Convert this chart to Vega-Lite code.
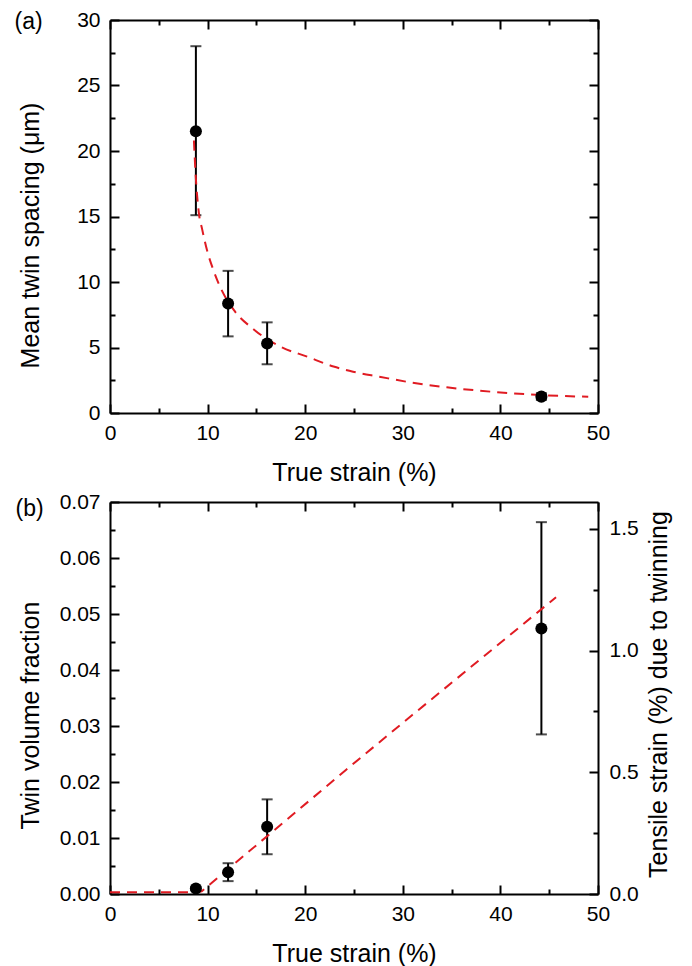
{
  "$schema": "https://vega.github.io/schema/vega-lite/v6.json",
  "padding": {"left": 14, "top": 9, "right": 5, "bottom": 2},
  "spacing": 6,
  "config": {
    "font": "Liberation Sans",
    "view": {"stroke": null},
    "axis": {
      "domainColor": "black", "domainWidth": 2, "tickColor": "black", "tickWidth": 2,
      "labelFont": "Liberation Sans", "labelFontSize": 21, "labelColor": "black",
      "titleFont": "Liberation Sans", "titleFontSize": 25, "titleFontWeight": "normal", "titleColor": "black",
      "grid": false, "labelFlush": false, "labelOverlap": false
    }
  },
  "datasets": {
    "ptsA": [
      {"strain": 8.8, "spacing": 21.5, "lo": 15.1, "hi": 28.0},
      {"strain": 12.1, "spacing": 8.35, "lo": 5.85, "hi": 10.85},
      {"strain": 16.1, "spacing": 5.3, "lo": 3.72, "hi": 6.92},
      {"strain": 44.2, "spacing": 1.25, "lo": 1.0, "hi": 1.5}
    ],
    "fitA": [
      {"strain": 8.6, "spacing": 20.8}, {"strain": 8.75, "spacing": 18.5}, {"strain": 9.1, "spacing": 15.3},
      {"strain": 9.45, "spacing": 14.0}, {"strain": 9.95, "spacing": 12.4}, {"strain": 10.6, "spacing": 10.9},
      {"strain": 11.3, "spacing": 9.6}, {"strain": 12.7, "spacing": 7.85}, {"strain": 14.7, "spacing": 6.4},
      {"strain": 17.5, "spacing": 5.05}, {"strain": 20.2, "spacing": 4.3}, {"strain": 22.9, "spacing": 3.55},
      {"strain": 24.9, "spacing": 3.15}, {"strain": 27.6, "spacing": 2.77}, {"strain": 31.0, "spacing": 2.31},
      {"strain": 34.5, "spacing": 1.96}, {"strain": 37.9, "spacing": 1.7}, {"strain": 41.3, "spacing": 1.5},
      {"strain": 44.7, "spacing": 1.35}, {"strain": 49.0, "spacing": 1.24}
    ],
    "ptsB": [
      {"strain": 8.8, "fraction": 0.001, "lo": 0.0007, "hi": 0.0013},
      {"strain": 12.1, "fraction": 0.0039, "lo": 0.0023, "hi": 0.0055},
      {"strain": 16.1, "fraction": 0.012, "lo": 0.0071, "hi": 0.0169},
      {"strain": 44.2, "fraction": 0.0474, "lo": 0.0285, "hi": 0.0664}
    ],
    "fitB": [
      {"strain": 0, "fraction": 0.0003}, {"strain": 8.8, "fraction": 0.0003}, {"strain": 9.4, "fraction": 0.0005},
      {"strain": 24.2, "fraction": 0.0222}, {"strain": 31.0, "fraction": 0.032}, {"strain": 45.7, "fraction": 0.053}
    ]
  },
  "vconcat": [
    {
      "width": 488, "height": 393,
      "layer": [
        {
          "data": {"name": "ptsA"},
          "mark": {"type": "rule", "strokeWidth": 2, "color": "black"},
          "encoding": {
            "x": {"field": "strain", "type": "quantitative", "scale": {"domain": [0, 50], "nice": false, "zero": false},
              "axis": {"orient": "bottom", "values": [0, 5, 10, 15, 20, 25, 30, 35, 40, 45, 50],
                "labelExpr": "datum.value % 10 === 0 ? datum.label : ''",
                "tickSize": {"condition": {"test": "datum.value % 10 === 0", "value": -9}, "value": -5},
                "labelPadding": 18, "title": "True strain (%)", "titleY": 47}},
            "y": {"field": "lo", "type": "quantitative", "scale": {"domain": [0, 30], "nice": false, "zero": false},
              "axis": {"orient": "left", "values": [0, 2.5, 5, 7.5, 10, 12.5, 15, 17.5, 20, 22.5, 25, 27.5, 30],
                "labelExpr": "datum.value % 5 === 0 ? datum.label : ''",
                "tickSize": {"condition": {"test": "datum.value % 5 === 0", "value": -9}, "value": -5},
                "labelPadding": 19, "title": "Mean twin spacing (μm)", "titleX": -67, "titleY": 215}},
            "y2": {"field": "hi"}
          }
        },
        {
          "data": {"name": "ptsA"},
          "mark": {"type": "tick", "orient": "horizontal", "size": 11, "thickness": 2, "color": "black"},
          "encoding": {
            "x": {"field": "strain", "type": "quantitative", "axis": null},
            "y": {"field": "lo", "type": "quantitative", "axis": null}
          }
        },
        {
          "data": {"name": "ptsA"},
          "mark": {"type": "tick", "orient": "horizontal", "size": 11, "thickness": 2, "color": "black"},
          "encoding": {
            "x": {"field": "strain", "type": "quantitative", "axis": null},
            "y": {"field": "hi", "type": "quantitative", "axis": null}
          }
        },
        {
          "data": {"name": "fitA"},
          "mark": {"type": "line", "color": "#e01b22", "strokeWidth": 2, "strokeDash": [10, 7], "interpolate": "monotone"},
          "encoding": {
            "x": {"field": "strain", "type": "quantitative", "axis": null},
            "y": {"field": "spacing", "type": "quantitative", "axis": null}
          }
        },
        {
          "data": {"name": "ptsA"},
          "mark": {"type": "circle", "size": 145, "color": "black", "opacity": 1},
          "encoding": {
            "x": {"field": "strain", "type": "quantitative",
              "axis": {"orient": "top", "values": [0, 5, 10, 15, 20, 25, 30, 35, 40, 45, 50], "labels": false,
                "tickSize": {"condition": {"test": "datum.value % 10 === 0", "value": -9}, "value": -5},
                "title": "(a)", "titleFontSize": 23, "titleAngle": 0, "titleAlign": "left", "titleBaseline": "alphabetic",
                "titleX": -96, "titleY": 8.5}},
            "y": {"field": "spacing", "type": "quantitative",
              "axis": {"orient": "right", "values": [0, 2.5, 5, 7.5, 10, 12.5, 15, 17.5, 20, 22.5, 25, 27.5, 30], "labels": false, "title": null,
                "tickSize": {"condition": {"test": "datum.value % 5 === 0", "value": -9}, "value": -5}}}
          }
        }
      ],
      "resolve": {"axis": {"x": "independent", "y": "independent"}}
    },
    {
      "width": 488, "height": 392,
      "layer": [
        {
          "data": {"name": "ptsB"},
          "mark": {"type": "rule", "strokeWidth": 2, "color": "black"},
          "encoding": {
            "x": {"field": "strain", "type": "quantitative", "scale": {"domain": [0, 50], "nice": false, "zero": false},
              "axis": {"orient": "bottom", "values": [0, 5, 10, 15, 20, 25, 30, 35, 40, 45, 50],
                "labelExpr": "datum.value % 10 === 0 ? datum.label : ''",
                "tickSize": {"condition": {"test": "datum.value % 10 === 0", "value": -9}, "value": -5},
                "labelPadding": 18, "title": "True strain (%)", "titleY": 47}},
            "y": {"field": "lo", "type": "quantitative", "scale": {"domain": [0, 0.07], "nice": false, "zero": false},
              "axis": {"orient": "left", "values": [0, 0.005, 0.01, 0.015, 0.02, 0.025, 0.03, 0.035, 0.04, 0.045, 0.05, 0.055, 0.06, 0.065, 0.07],
                "labelExpr": "round(datum.value * 200) % 2 === 0 ? format(datum.value, '.2f') : ''",
                "tickSize": {"condition": {"test": "round(datum.value * 200) % 2 === 0", "value": -9}, "value": -5},
                "labelPadding": 19, "title": "Twin volume fraction", "titleX": -67, "titleY": 213}},
            "y2": {"field": "hi"}
          }
        },
        {
          "data": {"name": "ptsB"},
          "mark": {"type": "tick", "orient": "horizontal", "size": 11, "thickness": 2, "color": "black"},
          "encoding": {
            "x": {"field": "strain", "type": "quantitative", "axis": null},
            "y": {"field": "lo", "type": "quantitative", "axis": null}
          }
        },
        {
          "data": {"name": "ptsB"},
          "mark": {"type": "tick", "orient": "horizontal", "size": 11, "thickness": 2, "color": "black"},
          "encoding": {
            "x": {"field": "strain", "type": "quantitative", "axis": null},
            "y": {"field": "hi", "type": "quantitative", "axis": null}
          }
        },
        {
          "data": {"name": "fitB"},
          "mark": {"type": "line", "color": "#e01b22", "strokeWidth": 2, "strokeDash": [10, 7]},
          "encoding": {
            "x": {"field": "strain", "type": "quantitative", "axis": null},
            "y": {"field": "fraction", "type": "quantitative", "axis": null}
          }
        },
        {
          "data": {"name": "ptsB"},
          "mark": {"type": "circle", "size": 145, "color": "black", "opacity": 1},
          "encoding": {
            "x": {"field": "strain", "type": "quantitative",
              "axis": {"orient": "top", "values": [0, 5, 10, 15, 20, 25, 30, 35, 40, 45, 50], "labels": false,
                "tickSize": {"condition": {"test": "datum.value % 10 === 0", "value": -9}, "value": -5},
                "title": "(b)", "titleFontSize": 23, "titleAngle": 0, "titleAlign": "left", "titleBaseline": "alphabetic",
                "titleX": -95, "titleY": 13}},
            "y": {"field": "fraction", "type": "quantitative",
              "axis": {"orient": "right", "values": [0, 0.010870, 0.021739, 0.032609, 0.043478, 0.054348, 0.065217],
                "labelExpr": "round(datum.value * 92) % 2 === 0 ? format(datum.value * 23, '.1f') : ''",
                "tickSize": {"condition": {"test": "round(datum.value * 92) % 2 === 0", "value": -9}, "value": -5},
                "labelPadding": 20, "title": "Tensile strain (%) due to twinning",
                "titleAngle": -90, "titleBaseline": "bottom", "titleX": 73, "titleY": 192}}
          }
        }
      ],
      "resolve": {"axis": {"x": "independent", "y": "independent"}}
    }
  ]
}
